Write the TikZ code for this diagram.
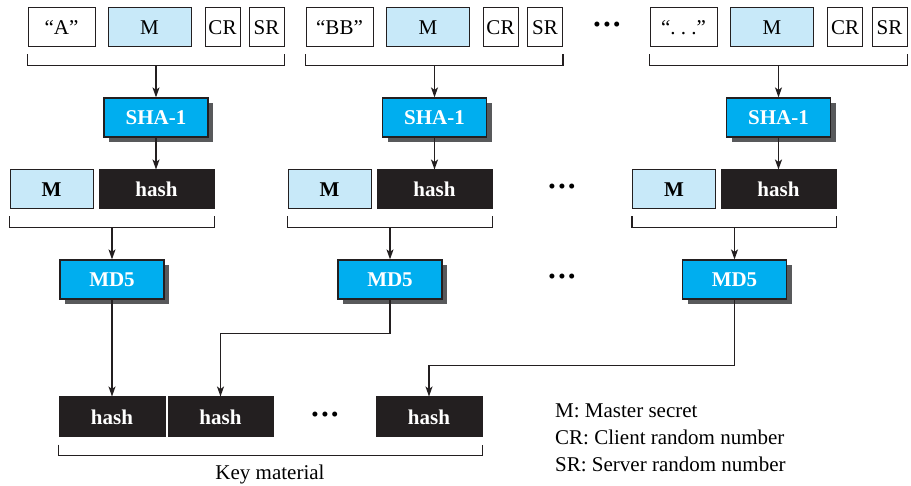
\documentclass[tikz,border=0pt]{standalone}
\usepackage{fontspec}
\setmainfont{Liberation Serif}
\usepackage{tikz}
\usetikzlibrary{positioning,arrows.meta,shadows}
\usepackage{xcolor}
\definecolor{msgblue}{RGB}{200,233,249}
\definecolor{algocyan}{RGB}{0,174,239}
\definecolor{inkblack}{RGB}{35,31,32}
\definecolor{shadowgray}{RGB}{88,89,91}
\newcommand{\groupline}[3]{\draw[brk] ([yshift=-7pt]#1.south west) -- ++(0,11) coordinate (#3) -| ([yshift=-7pt]#2.south east);}
\newcommand{\threedots}{\textbullet\hspace{2.5pt}\textbullet\hspace{2.5pt}\textbullet}

\begin{document}
\begin{tikzpicture}[
  x=1pt,y=-1pt,
  font=\fontsize{21}{25}\selectfont,
  field/.style={rectangle,draw=inkblack,line width=1pt,fill=white,inner sep=0pt,minimum height=39pt},
  mfield/.style={field,fill=msgblue,minimum width=83pt},
  hfield/.style={field,fill=inkblack,text=white,font=\fontsize{21}{25}\selectfont\bfseries,minimum width=115pt},
  algo/.style={rectangle,draw=inkblack,line width=1.2pt,fill=algocyan,text=white,
               font=\fontsize{21}{25}\selectfont\bfseries,minimum width=104pt,minimum height=39pt,inner sep=0pt,
               drop shadow={shadow xshift=5pt,shadow yshift=-5pt,fill=shadowgray,opacity=1}},
  brk/.style={draw=inkblack,line width=1.8pt},
  arr/.style={draw=inkblack,line width=1.4pt,-{Stealth[length=10pt,width=7pt,inset=2.5pt]}},
  dots/.style={inner sep=0pt}
]
\useasboundingbox (0,0) rectangle (911,486);

% first row: label, master secret, randoms
\node[field,minimum width=67pt] (qa) at (61.5,27.5) {``A''};
\node[mfield] (m1) at (149.5,27.5) {M};
\node[field,minimum width=35pt] (cr1) at (222.5,27.5) {CR};
\node[field,minimum width=35pt] (sr1) at (266.5,27.5) {SR};
\node[field,minimum width=67pt] (qb) at (339.5,27.5) {``BB''};
\node[mfield] (m2) at (428,27.5) {M};
\node[field,minimum width=35pt] (cr2) at (500.5,27.5) {CR};
\node[field,minimum width=35pt] (sr2) at (545,27.5) {SR};
\node[dots] (d1) at (607,27) {\threedots};
\node[field,minimum width=67pt] (qc) at (683.5,27.5) {``.~.~.''};
\node[mfield] (m3) at (772,27.5) {M};
\node[field,minimum width=35pt] (cr3) at (845,27.5) {CR};
\node[field,minimum width=35pt] (sr3) at (889.5,27.5) {SR};
\groupline{qa}{sr1}{g1}
\groupline{qb}{sr2}{g2}
\groupline{qc}{sr3}{g3}

% SHA-1
\node[algo] (sha1) at (156,117.5) {SHA-1};
\node[algo] (sha2) at (434.5,117.5) {SHA-1};
\node[algo] (sha3) at (778.5,117.5) {SHA-1};
\draw[arr] (sha1.north |- g1) -- (sha1.north);
\draw[arr] (sha2.north |- g2) -- (sha2.north);
\draw[arr] (sha3.north |- g3) -- (sha3.north);

% second row: master secret + hash
\node[mfield,font=\fontsize{21}{25}\selectfont\bfseries] (mm1) at (51.5,189.5) {M};
\node[hfield] (hh1) at (156.5,189.5) {hash};
\node[mfield,font=\fontsize{21}{25}\selectfont\bfseries] (mm2) at (329.5,189.5) {M};
\node[hfield] (hh2) at (434.5,189.5) {hash};
\node[dots] (d2) at (562,189) {\threedots};
\node[mfield,font=\fontsize{21}{25}\selectfont\bfseries] (mm3) at (674,189.5) {M};
\node[hfield] (hh3) at (778.5,189.5) {hash};
\draw[arr] (sha1.south) -- (sha1.south |- hh1.north);
\draw[arr] (sha2.south) -- (sha2.south |- hh2.north);
\draw[arr] (sha3.south) -- (sha3.south |- hh3.north);
\groupline{mm1}{hh1}{h1}
\groupline{mm2}{hh2}{h2}
\groupline{mm3}{hh3}{h3}

% MD5
\node[algo] (md1) at (112,279.5) {MD5};
\node[algo] (md2) at (390,279.5) {MD5};
\node[dots] (d3) at (562,279) {\threedots};
\node[algo] (md3) at (734.5,279.5) {MD5};
\draw[arr] (md1.north |- h1) -- (md1.north);
\draw[arr] (md2.north |- h2) -- (md2.north);
\draw[arr] (md3.north |- h3) -- (md3.north);

% key material
\node[hfield,minimum width=106pt,minimum height=40pt] (k1) at (112,417) {hash};
\node[hfield,minimum width=105pt,minimum height=40pt] (k2) at (220.5,417) {hash};
\node[dots] (d4) at (325,417) {\threedots};
\node[hfield,minimum width=106pt,minimum height=40pt] (k3) at (429,417) {hash};
\draw[arr] (md1.south) -- (md1.south |- k1.north);
\draw[arr] (md2.south) -- ++(0,34) -| (k2.north);
\draw[arr] (md3.south) -- ++(0,66) -| (k3.north);
\groupline{k1}{k3}{km}
\node (key) at (270,474) {Key material};

% legend
\node[align=left,anchor=west,inner sep=0pt,font=\fontsize{21}{27}\selectfont] (legend) at (555,438)
  {M: Master secret\\CR: Client random number\\SR: Server random number};
\end{tikzpicture}
\end{document}
